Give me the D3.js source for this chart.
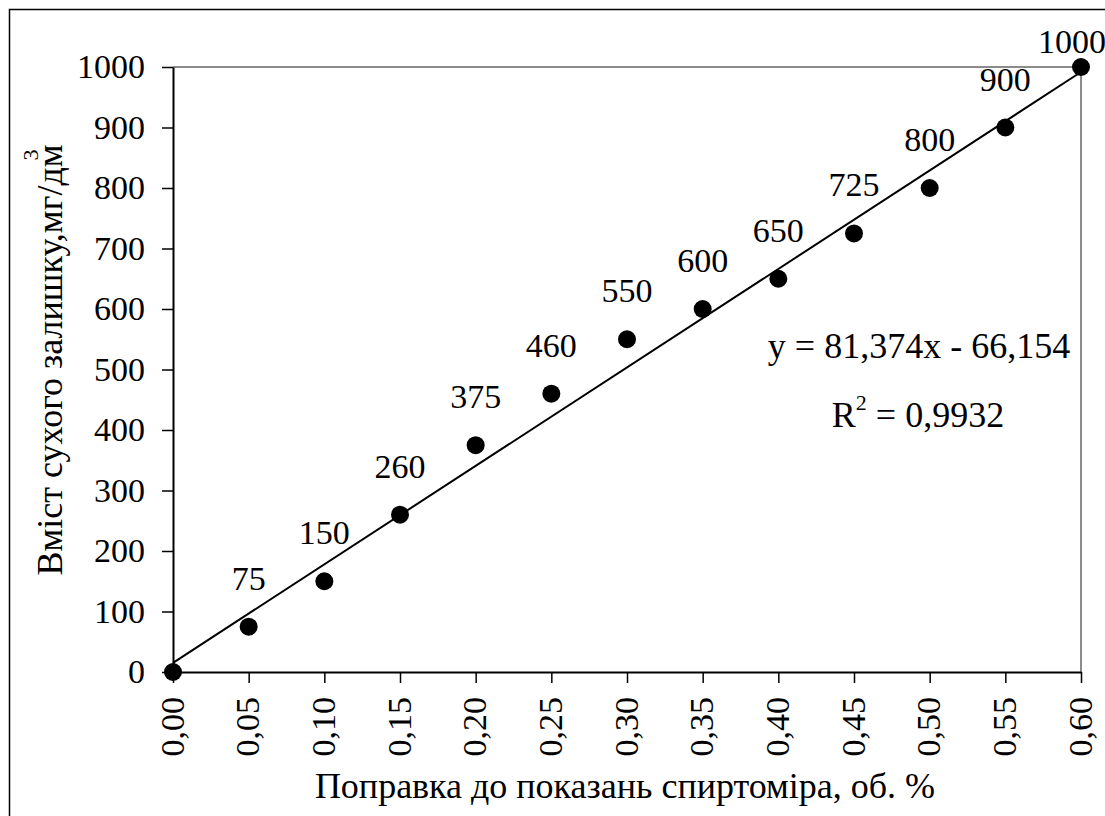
<!DOCTYPE html>
<html>
<head>
<meta charset="utf-8">
<script src="https://cdn.jsdelivr.net/npm/d3@7"></script>
<style>
  body { margin: 0; background: #fff; }
</style>
</head>
<body>
<script>
// categories on the x axis (alcohol-meter correction, % vol)
var xLabels = ["0,00", "0,05", "0,10", "0,15", "0,20", "0,25", "0,30", "0,35", "0,40", "0,45", "0,50", "0,55", "0,60"];
// dry residue content, mg/dm3
var yValues = [0, 75, 150, 260, 375, 460, 550, 600, 650, 725, 800, 900, 1000];
var yTicks = [0, 100, 200, 300, 400, 500, 600, 700, 800, 900, 1000];
// linear trend from the chart (x = category number 1..13)
var trendSlope = 81.374, trendIntercept = -66.154;
var eqText = "y = 81,374x - 66,154";
var r2Text = " = 0,9932";

var width = 1105, height = 816;
var margin = { left: 173, right: 1081, top: 67, bottom: 672 };
var FONT = "Liberation Serif";
var FS = 34;      // numbers
var FS_T = 36;    // titles and equation

var svg = d3.select("body").append("svg")
    .attr("width", width)
    .attr("height", height);

// outer chart border (runs off the bottom/right of the picture)
svg.append("rect")
    .attr("x", 9.5).attr("y", 9.5)
    .attr("width", 1120).attr("height", 830)
    .attr("fill", "none").attr("stroke", "#000").attr("stroke-width", 1.5);

var x = d3.scalePoint()
    .domain(xLabels)
    .range([margin.left, margin.right])
    .padding(0);

var xIdx = d3.scaleLinear()
    .domain([1, xLabels.length])
    .range([margin.left, margin.right]);

var y = d3.scaleLinear()
    .domain([0, 1000])
    .range([margin.bottom, margin.top]);

// plot area border (top & right grey)
svg.append("path")
    .attr("d", `M${margin.left},${margin.top}H${margin.right}V${margin.bottom}`)
    .attr("fill", "none").attr("stroke", "#8c8c8c").attr("stroke-width", 2);

// y axis
var yAxis = svg.append("g")
    .attr("transform", `translate(${margin.left},0)`)
    .call(d3.axisLeft(y).tickValues(yTicks).tickFormat(d3.format("d"))
        .tickSize(11).tickPadding(17).tickSizeOuter(0));
yAxis.attr("font-family", null).attr("font-size", null);
yAxis.select(".domain").attr("stroke", "#000").attr("stroke-width", 2);
yAxis.selectAll(".tick line").attr("stroke", "#000").attr("stroke-width", 1.5);
yAxis.selectAll("text").attr("fill", "#000").attr("font-size", FS);

// x axis
var xAxis = svg.append("g")
    .attr("transform", `translate(0,${margin.bottom})`)
    .call(d3.axisBottom(x).tickSize(11).tickSizeOuter(0));
xAxis.attr("font-family", null).attr("font-size", null);
xAxis.select(".domain").attr("stroke", "#000").attr("stroke-width", 2);
xAxis.selectAll(".tick line").attr("stroke", "#000").attr("stroke-width", 1.5);
xAxis.selectAll("text")
    .attr("fill", "#000")
    .attr("font-size", FS)
    .attr("text-anchor", "end")
    .attr("transform", "translate(0,25) rotate(-90)")
    .attr("x", 0).attr("y", 0)
    .attr("dy", "0.3em");

// trend line
var first = 1, last = xLabels.length;
svg.append("line")
    .attr("x1", xIdx(first)).attr("y1", y(trendSlope * first + trendIntercept))
    .attr("x2", xIdx(last)).attr("y2", y(trendSlope * last + trendIntercept))
    .attr("stroke", "#000").attr("stroke-width", 2);

// points
var pts = xLabels.map((d, i) => ({ cat: d, val: yValues[i] }));
svg.selectAll(".dot")
    .data(pts)
    .enter().append("circle")
    .attr("class", "dot")
    .attr("cx", d => x(d.cat))
    .attr("cy", d => y(d.val))
    .attr("r", 9)
    .attr("fill", "#000");

// data labels
svg.selectAll(".lbl")
    .data(pts.filter(d => d.val > 0))
    .enter().append("text")
    .attr("class", "lbl")
    .attr("x", d => Math.min(x(d.cat), 1072))
    .attr("y", d => Math.max(y(d.val) - 37, 53))
    .attr("text-anchor", "middle")
    .attr("font-size", FS)
    .text(d => d.val);

// equation
svg.append("text")
    .attr("x", 919).attr("y", 358)
    .attr("text-anchor", "middle")
    .attr("font-size", FS_T)
    .text(eqText);

var r2 = svg.append("text")
    .attr("x", 918).attr("y", 427)
    .attr("text-anchor", "middle")
    .attr("font-size", FS_T);
r2.append("tspan").text("R");
r2.append("tspan").attr("dy", -17).attr("font-size", 22).text("2");
r2.append("tspan").attr("dy", 17).text(r2Text);

// axis titles
svg.append("text")
    .attr("x", 625).attr("y", 798)
    .attr("text-anchor", "middle")
    .attr("font-size", FS_T)
    .text("Поправка до показань спиртоміра, об. %");

var yt = svg.append("text")
    .attr("transform", "translate(62,360) rotate(-90)")
    .attr("text-anchor", "middle")
    .attr("font-size", FS_T);
yt.append("tspan").text("Вміст сухого залишку,мг/дм");
yt.append("tspan").attr("dy", -24).attr("dx", -16).attr("font-size", 22).text("3");

// every text element gets the font directly
svg.selectAll("text").attr("font-family", FONT);
</script>
</body>
</html>
